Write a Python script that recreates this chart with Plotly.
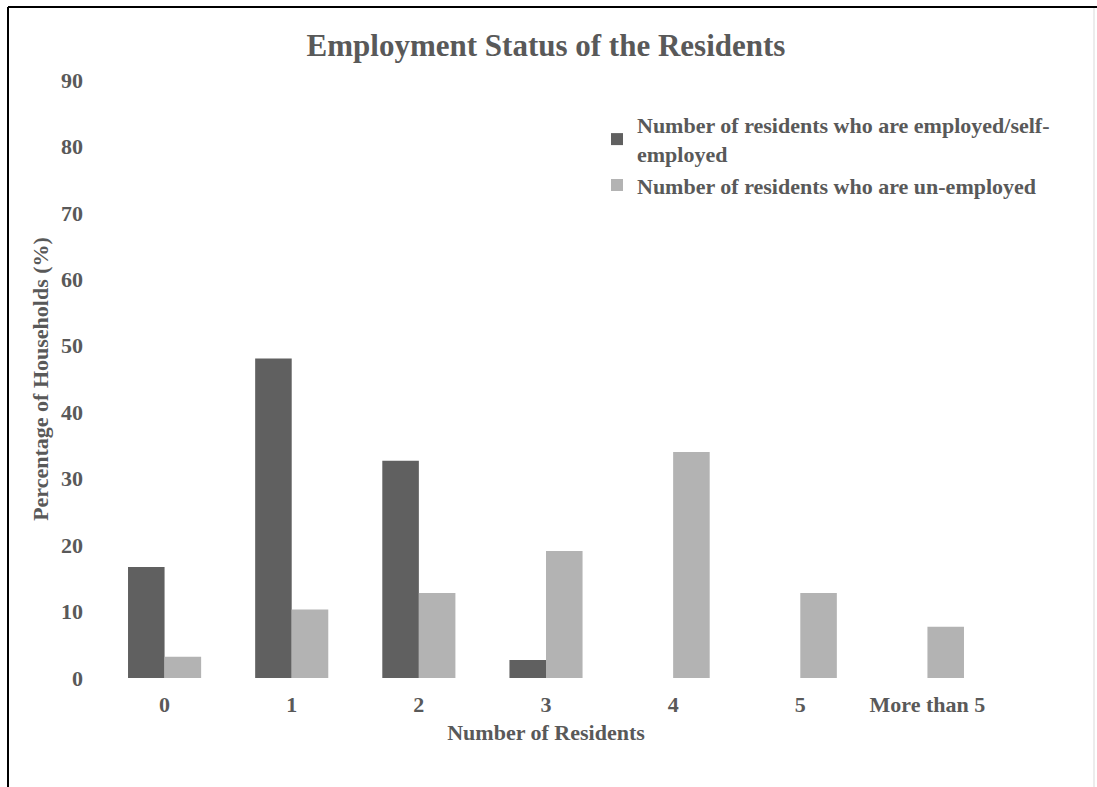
import plotly.graph_objects as go

# Household survey: number of residents per household by employment status (%)
categories = ["0", "1", "2", "3", "4", "5", "More than 5"]
employed = [16.7, 48.1, 32.7, 2.7, 0, 0, 0]
unemployed = [3.2, 10.3, 12.8, 19.1, 34.0, 12.8, 7.7]
y_ticks = [0, 10, 20, 30, 40, 50, 60, 70, 80, 90]

series_names = [
    "<b>Number of residents who are employed/self-<br>employed</b>",
    "<b>Number of residents who are un-employed</b>",
]

W, H = 1097, 787
ML, MR, MT, MB = 101, 106, 80, 109
TEXT = "#595959"
FONT = "Liberation Serif"

fig = go.Figure()
fig.add_trace(go.Bar(x=categories, y=employed, name=series_names[0],
                     marker=dict(color="#606060", line=dict(width=0))))
fig.add_trace(go.Bar(x=categories, y=unemployed, name=series_names[1],
                     marker=dict(color="#b3b3b3", line=dict(width=0))))

pw = W - ML - MR
ph = H - MT - MB


def px_x(px):
    return (px - ML) / pw


def px_y(py):
    return (H - MB - py) / ph


fig.update_layout(
    width=W, height=H,
    margin=dict(l=ML, r=MR, t=MT, b=MB),
    paper_bgcolor="white", plot_bgcolor="white",
    barmode="group", bargap=0.425, bargroupgap=0,
    font=dict(family=FONT, size=22, color=TEXT),
    title=dict(text="<b>Employment Status of the Residents</b>",
               font=dict(family=FONT, size=31, color=TEXT),
               x=0.5, xref="paper", xanchor="center",
               y=1 - 45 / H, yanchor="middle"),
    legend=dict(x=px_x(597), y=px_y(104), xanchor="left", yanchor="top",
                bgcolor="rgba(0,0,0,0)", borderwidth=0,
                font=dict(family=FONT, size=22, color=TEXT),
                tracegroupgap=0, itemsizing="constant"),
    xaxis=dict(
        showgrid=False, showline=False, zeroline=False, ticks="",
        tickfont=dict(family=FONT, size=22, color=TEXT),
        ticklabelstandoff=11,
        title=dict(text="<b>Number of Residents</b>",
                   font=dict(family=FONT, size=22, color=TEXT), standoff=8),
        tickmode="array", tickvals=categories,
        ticktext=[f"<b>{c}</b>" for c in categories],
    ),
    yaxis=dict(
        range=[0, 90], showgrid=False, showline=False, zeroline=False,
        ticks="", tickmode="array", tickvals=y_ticks,
        ticktext=[f"<b>{v}</b>" for v in y_ticks],
        tickfont=dict(family=FONT, size=22, color=TEXT),
        ticklabelstandoff=17,
        title=dict(text="<b>Percentage of Households (%)</b>",
                   font=dict(family=FONT, size=22, color=TEXT), standoff=6),
    ),
)

# Chart frame: dark top and left edges, faint right edge
fig.add_shape(type="line", xref="paper", yref="paper",
              x0=px_x(8), x1=px_x(1100), y0=px_y(7), y1=px_y(7),
              line=dict(color="black", width=2))
fig.add_shape(type="line", xref="paper", yref="paper",
              x0=px_x(8), x1=px_x(8), y0=px_y(7), y1=px_y(800),
              line=dict(color="black", width=2))
fig.add_shape(type="line", xref="paper", yref="paper",
              x0=px_x(1094), x1=px_x(1094), y0=px_y(8), y1=px_y(800),
              line=dict(color="#d9d9d9", width=1))

fig.write_html("out.html")
